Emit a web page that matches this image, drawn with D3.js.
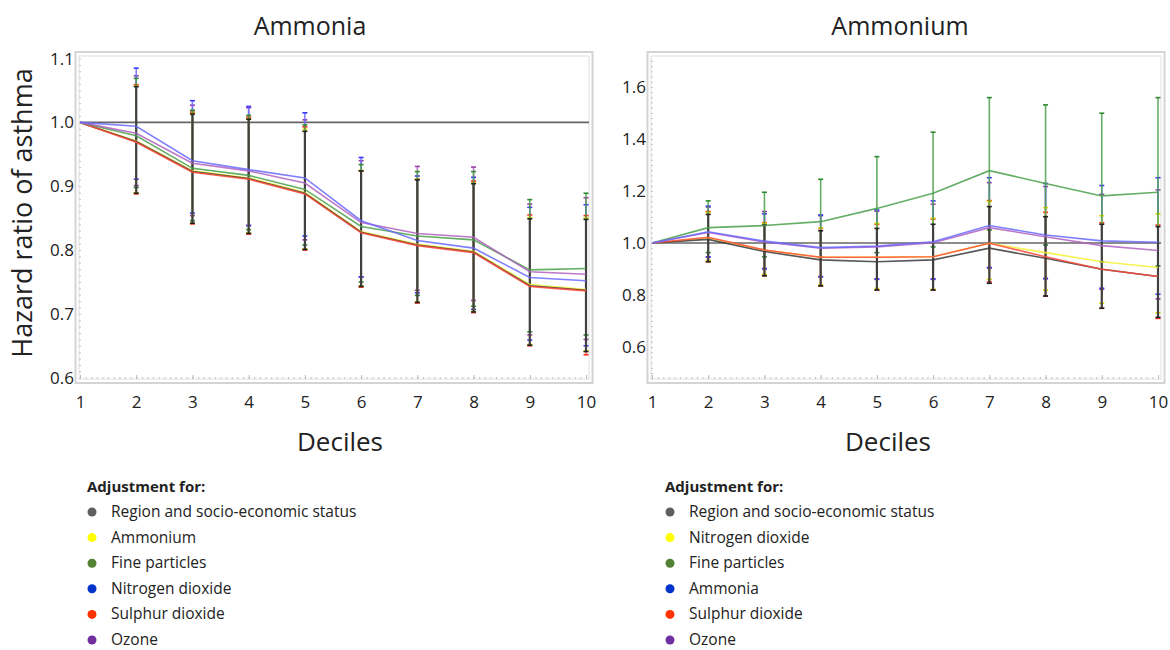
<!DOCTYPE html>
<html>
<head>
<meta charset="utf-8">
<script src="https://cdn.jsdelivr.net/npm/d3@7"></script>
<style>
  body { margin: 0; background: #fff; }
  svg text { font-family: "Open Sans", "Noto Sans", sans-serif; fill: #222; }
</style>
</head>
<body>
<div id="chart"></div>
<script>
(function () {
  // deciles on the x axis
  var deciles = [1, 2, 3, 4, 5, 6, 7, 8, 9, 10];

  // Ammonia panel: series order = region, ammonium, fine particles, NO2, SO2, ozone
  var ammoniaNames = ["Region and socio-economic status", "Ammonium", "Fine particles",
    "Nitrogen dioxide", "Sulphur dioxide", "Ozone"];
  var ammoniaHR = [
    [1, 0.970, 0.923, 0.912, 0.889, 0.828, 0.808, 0.797, 0.744, 0.737],
    [1, 0.971, 0.924, 0.913, 0.890, 0.829, 0.809, 0.798, 0.746, 0.738],
    [1, 0.979, 0.928, 0.917, 0.895, 0.837, 0.822, 0.816, 0.769, 0.771],
    [1, 0.994, 0.940, 0.926, 0.913, 0.846, 0.815, 0.803, 0.757, 0.752],
    [1, 0.969, 0.922, 0.911, 0.888, 0.827, 0.807, 0.796, 0.743, 0.736],
    [1, 0.983, 0.936, 0.924, 0.905, 0.843, 0.826, 0.820, 0.766, 0.762]
  ];
  var ammoniaLo = [
    [1, 0.889, 0.842, 0.826, 0.801, 0.743, 0.718, 0.703, 0.651, 0.641],
    [1, 0.890, 0.842, 0.827, 0.802, 0.744, 0.719, 0.704, 0.652, 0.642],
    [1, 0.898, 0.846, 0.832, 0.808, 0.750, 0.729, 0.712, 0.672, 0.667],
    [1, 0.911, 0.858, 0.838, 0.822, 0.758, 0.733, 0.707, 0.659, 0.650],
    [1, 0.888, 0.841, 0.825, 0.800, 0.742, 0.717, 0.702, 0.650, 0.636],
    [1, 0.901, 0.854, 0.839, 0.816, 0.758, 0.737, 0.721, 0.667, 0.660]
  ];
  var ammoniaHi = [
    [1, 1.056, 1.013, 1.005, 0.986, 0.924, 0.910, 0.904, 0.849, 0.848],
    [1, 1.057, 1.014, 1.006, 0.989, 0.925, 0.911, 0.905, 0.851, 0.850],
    [1, 1.069, 1.019, 1.011, 0.996, 0.934, 0.923, 0.923, 0.879, 0.889],
    [1, 1.085, 1.034, 1.025, 1.015, 0.945, 0.916, 0.914, 0.867, 0.871],
    [1, 1.059, 1.016, 1.008, 0.993, 0.924, 0.911, 0.908, 0.855, 0.854],
    [1, 1.073, 1.027, 1.023, 1.004, 0.940, 0.931, 0.930, 0.872, 0.882]
  ];
  var ammoniaTicks = [0.6, 0.7, 0.8, 0.9, 1.0, 1.1];

  // Ammonium panel: region, NO2, fine particles, ammonia, SO2, ozone
  var ammoniumNames = ["Region and socio-economic status", "Nitrogen dioxide", "Fine particles",
    "Ammonia", "Sulphur dioxide", "Ozone"];
  var ammoniumHR = [
    [1, 1.014, 0.967, 0.935, 0.928, 0.935, 0.980, 0.941, 0.899, 0.871],
    [1, 1.020, 0.972, 0.945, 0.945, 0.947, 0.999, 0.963, 0.928, 0.906],
    [1, 1.059, 1.067, 1.082, 1.133, 1.191, 1.278, 1.229, 1.181, 1.195],
    [1, 1.043, 1.007, 0.982, 0.988, 1.005, 1.067, 1.031, 1.008, 1.003],
    [1, 1.022, 0.973, 0.945, 0.945, 0.947, 0.999, 0.947, 0.899, 0.871],
    [1, 1.040, 1.004, 0.980, 0.985, 1.001, 1.059, 1.024, 0.990, 0.971]
  ];
  var ammoniumLo = [
    [1, 0.928, 0.874, 0.835, 0.819, 0.819, 0.845, 0.796, 0.749, 0.714],
    [1, 0.933, 0.879, 0.840, 0.825, 0.822, 0.860, 0.819, 0.768, 0.732],
    [1, 0.963, 0.947, 0.945, 0.963, 0.985, 1.050, 0.992, 0.928, 0.912],
    [1, 0.947, 0.902, 0.871, 0.862, 0.862, 0.906, 0.864, 0.826, 0.803],
    [1, 0.928, 0.874, 0.835, 0.819, 0.819, 0.850, 0.796, 0.749, 0.710],
    [1, 0.945, 0.900, 0.869, 0.860, 0.860, 0.903, 0.862, 0.822, 0.785]
  ];
  var ammoniumHi = [
    [1, 1.110, 1.069, 1.047, 1.056, 1.072, 1.140, 1.101, 1.072, 1.063],
    [1, 1.117, 1.075, 1.058, 1.075, 1.095, 1.160, 1.136, 1.105, 1.112],
    [1, 1.162, 1.195, 1.245, 1.332, 1.426, 1.559, 1.531, 1.499, 1.559],
    [1, 1.142, 1.112, 1.108, 1.127, 1.162, 1.251, 1.229, 1.221, 1.251],
    [1, 1.121, 1.078, 1.056, 1.072, 1.092, 1.163, 1.118, 1.078, 1.069],
    [1, 1.138, 1.121, 1.105, 1.122, 1.149, 1.232, 1.217, 1.187, 1.204]
  ];
  var ammoniumTicks = [0.6, 0.8, 1.0, 1.2, 1.4, 1.6];

  // colours by series position
  var lineColors = ["#3a3a3a", "#f2f230", "#4aa04a", "#6a6aff", "#ff4a3a", "#b060c0"];
  var capColors = ["#222222", "#d8d800", "#2f8a2f", "#3a3aff", "#ff2a1a", "#9a40a8"];
  var dotColors = ["#5f5f5f", "#ffff00", "#548235", "#0033cc", "#ff3300", "#7030a0"];

  var barOrder = [5, 3, 4, 1, 2, 0];   // black bars end on top
  var lineOrder = [1, 0, 4, 2, 5, 3];

  var svg = d3.select("#chart").append("svg")
    .attr("width", 1170)
    .attr("height", 650);

  function drawPanel(o) {
    var x = d3.scaleLinear().domain([1, 10]).range([o.x0, o.x1]);
    var y = d3.scaleLinear().domain(o.yDomain).range([379, 56]);

    var innerL = o.x0 - 1, innerR = o.x1 + 3;

    // frame: light outer border, thin inner border
    svg.append("rect")
      .attr("x", innerL - 3.5).attr("y", 52)
      .attr("width", innerR - innerL + 7).attr("height", 331)
      .attr("fill", "none").attr("stroke", "#d4d4d4").attr("stroke-width", 2);
    svg.append("rect")
      .attr("x", innerL).attr("y", 56)
      .attr("width", innerR - innerL).attr("height", 323)
      .attr("fill", "none").attr("stroke", "#dedede").attr("stroke-width", 1);

    // minor ticks along bottom and left
    var minorX = d3.range(1, 10.001, 0.1);
    svg.append("g")
      .attr("transform", "translate(0,379)")
      .call(d3.axisBottom(x).tickValues(minorX).tickSize(-2).tickFormat(""))
      .call(function (g) { g.select(".domain").remove(); })
      .selectAll("line").attr("stroke", "#c4c4c4");
    svg.append("g")
      .attr("transform", "translate(" + innerL + ",0)")
      .call(d3.axisLeft(y).tickValues(d3.range(o.minorStart, o.yDomain[1], o.minorStep)).tickSize(-2).tickFormat(""))
      .call(function (g) { g.select(".domain").remove(); })
      .selectAll("line").attr("stroke", "#c4c4c4");

    // major x ticks + labels
    var gx = svg.append("g")
      .attr("transform", "translate(0,379)")
      .call(d3.axisBottom(x).tickValues(deciles).tickSize(-4).tickPadding(17).tickFormat(d3.format("d")));
    gx.select(".domain").remove();
    gx.selectAll("line").attr("stroke", "#b8b8b8");
    gx.selectAll("text").style("font-size", "17px").attr("fill", "#222");

    // major y ticks + labels
    var gy = svg.append("g")
      .attr("transform", "translate(" + innerL + ",0)")
      .call(d3.axisLeft(y).tickValues(o.ticks).tickSize(0).tickPadding(5).tickFormat(d3.format(".1f")));
    gy.select(".domain").remove();
    gy.selectAll("text").style("font-size", "17px").attr("fill", "#222");

    // reference line at 1.0
    svg.append("line")
      .attr("x1", x(1)).attr("x2", innerR)
      .attr("y1", y(1)).attr("y2", y(1))
      .attr("stroke", "#666").attr("stroke-width", 1.6);

    // error bars
    barOrder.forEach(function (s) {
      var g = svg.append("g");
      deciles.forEach(function (d, i) {
        if (i === 0) return;
        var cx = x(d), lo = y(o.lo[s][i]), hi = y(o.hi[s][i]);
        g.append("line")
          .attr("x1", cx).attr("x2", cx).attr("y1", lo).attr("y2", hi)
          .attr("stroke", s === 0 ? "#404040" : lineColors[s])
          .attr("stroke-width", s === 0 ? 2.2 : 1.6)
          .attr("stroke-opacity", s === 0 ? 1 : 0.85);
        [lo, hi].forEach(function (yy) {
          g.append("line")
            .attr("x1", cx - 2.5).attr("x2", cx + 2.5).attr("y1", yy).attr("y2", yy)
            .attr("stroke", capColors[s]).attr("stroke-width", 1.6);
        });
      });
    });

    // hazard ratio lines
    var line = d3.line()
      .x(function (d, i) { return x(deciles[i]); })
      .y(function (d) { return y(d); });
    lineOrder.forEach(function (s) {
      svg.append("path")
        .datum(o.hr[s])
        .attr("d", line)
        .attr("fill", "none")
        .attr("stroke", lineColors[s])
        .attr("stroke-width", 1.6)
        .attr("stroke-opacity", 0.85);
    });

    // titles
    svg.append("text")
      .attr("x", o.titleX).attr("y", 35)
      .attr("text-anchor", "middle")
      .style("font-size", "25px")
      .text(o.title);
    svg.append("text")
      .attr("x", o.xLabelX).attr("y", 451)
      .attr("text-anchor", "middle")
      .style("font-size", "26px")
      .text("Deciles");

    // legend
    var lg = svg.append("g").attr("transform", "translate(" + o.legendX + ",0)");
    lg.append("text")
      .attr("x", 0).attr("y", 492)
      .style("font-size", "15px").style("font-weight", "bold")
      .text("Adjustment for:");
    o.names.forEach(function (name, i) {
      var cy = 512 + i * 25.6;
      lg.append("circle")
        .attr("cx", 5).attr("cy", cy).attr("r", 4.5)
        .attr("fill", dotColors[i]);
      lg.append("text")
        .attr("x", 24).attr("y", cy + 5)
        .style("font-size", "15.5px")
        .text(name);
    });
  }

  drawPanel({
    title: "Ammonia", titleX: 310, xLabelX: 340,
    x0: 80, x1: 586, yDomain: [0.598, 1.104],
    ticks: ammoniaTicks, minorStart: 0.6, minorStep: 0.01,
    hr: ammoniaHR, lo: ammoniaLo, hi: ammoniaHi,
    names: ammoniaNames, legendX: 87
  });

  drawPanel({
    title: "Ammonium", titleX: 900, xLabelX: 888,
    x0: 652, x1: 1158, yDomain: [0.477, 1.719],
    ticks: ammoniumTicks, minorStart: 0.48, minorStep: 0.02,
    hr: ammoniumHR, lo: ammoniumLo, hi: ammoniumHi,
    names: ammoniumNames, legendX: 665
  });

  // shared y axis title
  svg.append("text")
    .attr("transform", "translate(32,213) rotate(-90)")
    .attr("text-anchor", "middle")
    .style("font-size", "27px")
    .text("Hazard ratio of asthma");
})();
</script>
</body>
</html>
